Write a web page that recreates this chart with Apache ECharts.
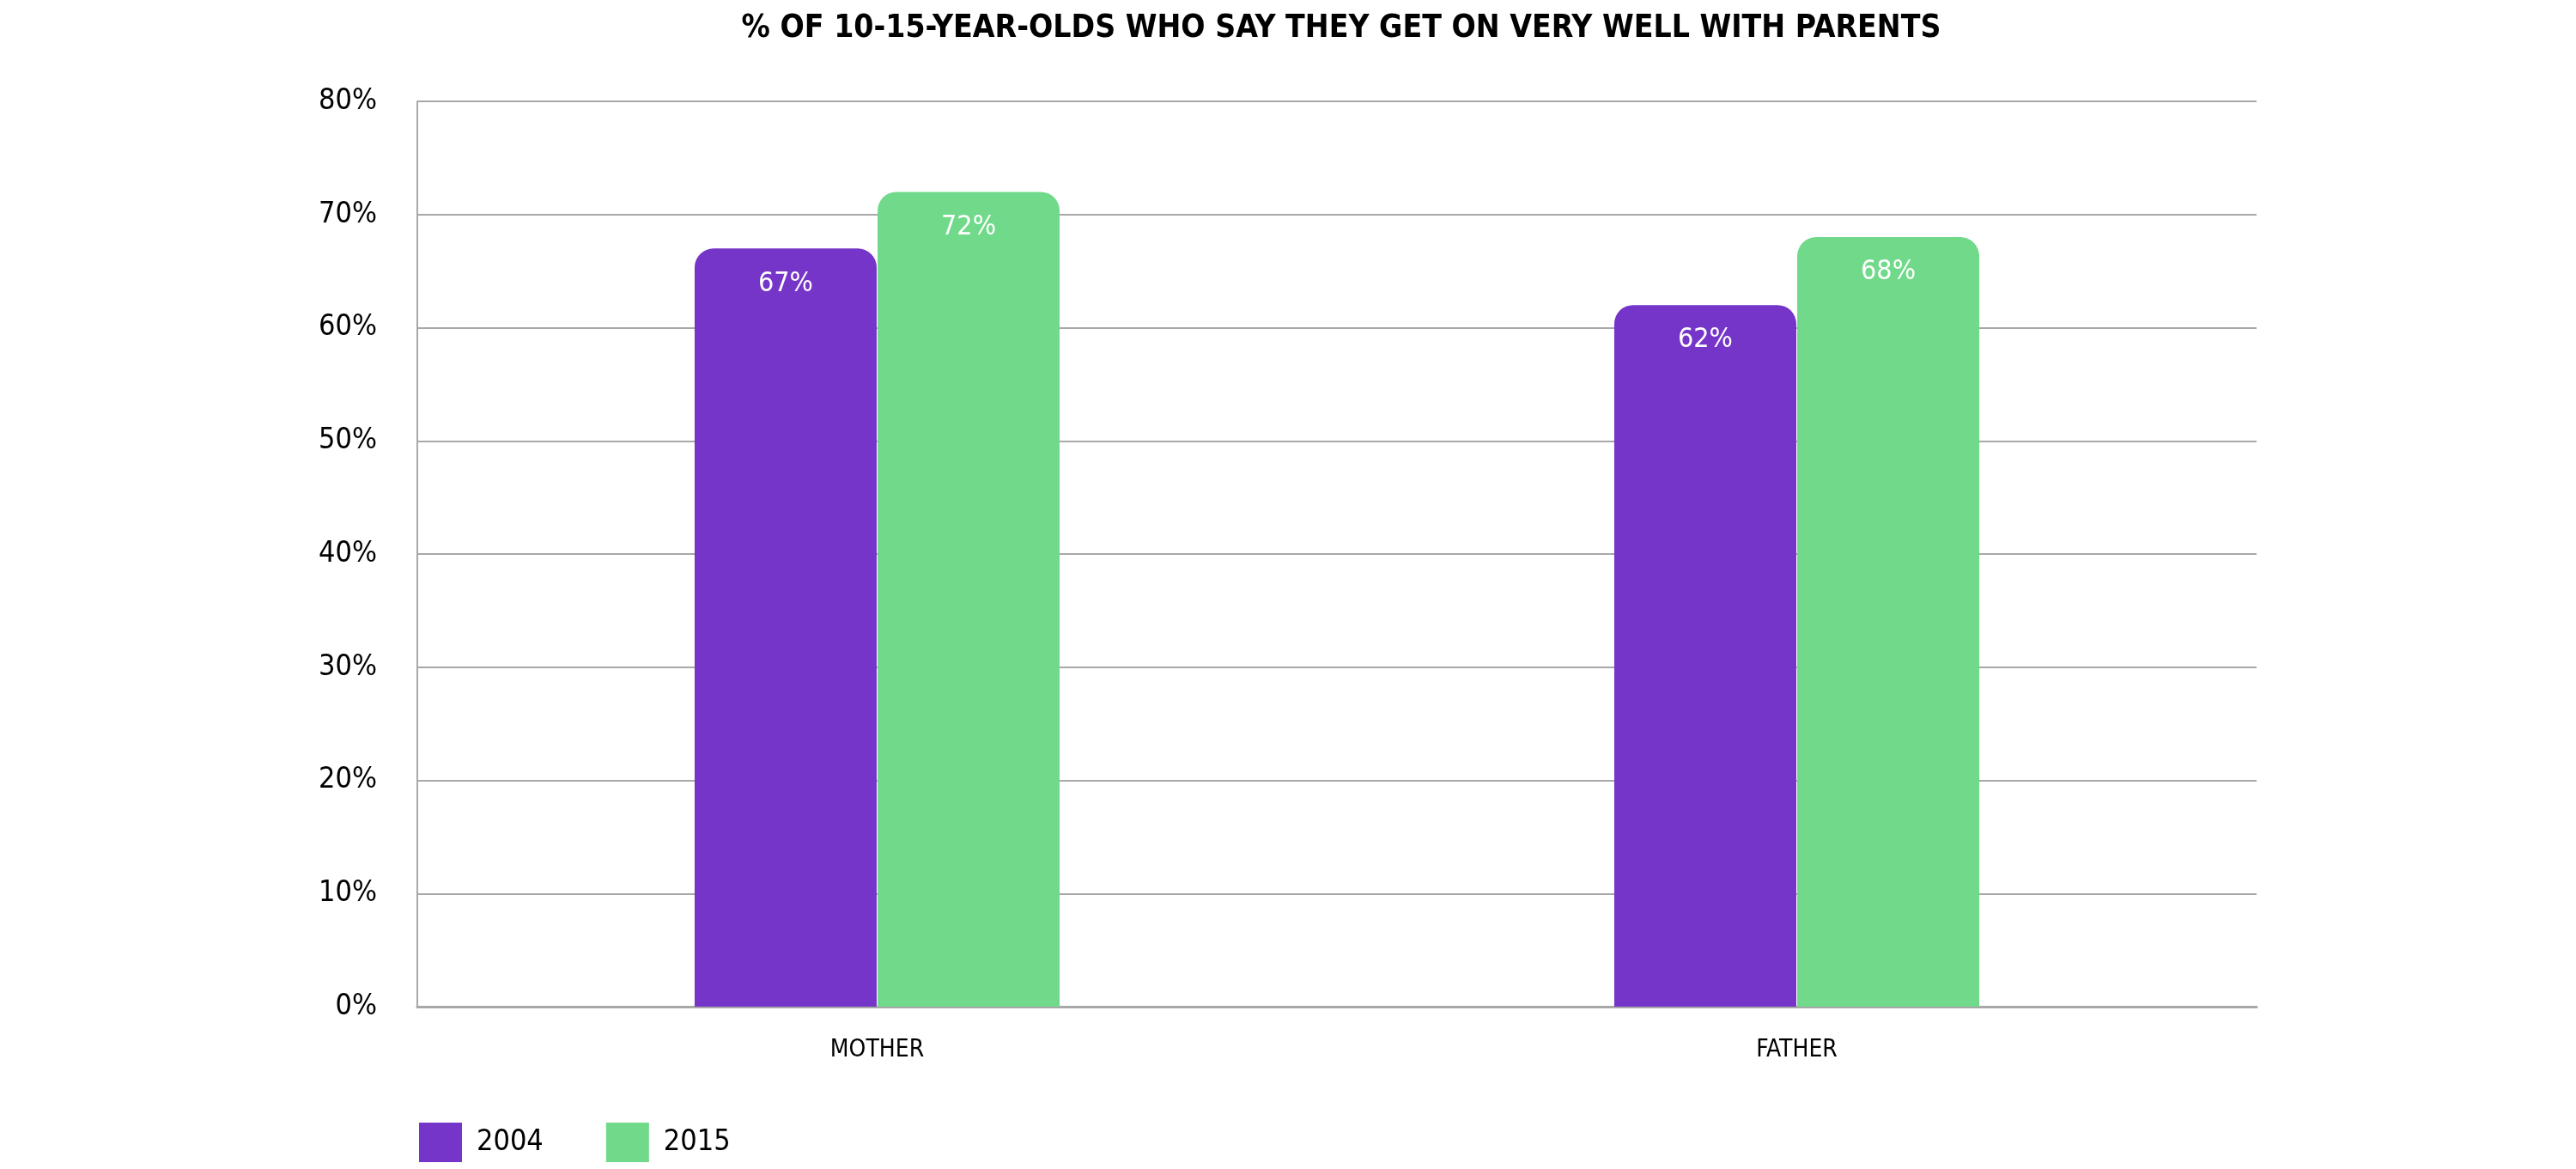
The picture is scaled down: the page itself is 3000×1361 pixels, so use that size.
<!DOCTYPE html>
<html>
<head>
<meta charset="utf-8">
<script src="https://cdn.jsdelivr.net/npm/echarts@6/dist/echarts.min.js"></script>
<style>
html,body{margin:0;padding:0;background:#fff;}
#chart{width:3000px;height:1361px;}
</style>
</head>
<body>
<div id="chart"></div>
<script>
var titleText = '% OF 10-15-YEAR-OLDS WHO SAY THEY GET ON VERY WELL WITH PARENTS';
var categories = ['MOTHER', 'FATHER'];
var seriesNames = ['2004', '2015'];
var values2004 = [67, 62];
var values2015 = [72, 68];
var yTicks = [0, 10, 20, 30, 40, 50, 60, 70, 80];

var FONT = "'Liberation Sans Narrow', 'DejaVu Sans Condensed', 'Arial Narrow', sans-serif";
var PURPLE = '#7535c8';
var GREEN = '#70d98a';
var GRID = '#a8a8a8';

var chart = echarts.init(document.getElementById('chart'));

function barSeries(name, data, color) {
  return {
    name: name,
    type: 'bar',
    data: data,
    barWidth: 212,
    barGap: '0.5%',
    itemStyle: { color: color, borderRadius: [22, 22, 0, 0] },
    label: {
      show: true,
      position: 'insideTop',
      distance: 25,
      color: '#ffffff',
      fontFamily: FONT,
      fontSize: 32,
      formatter: function (p) { return p.value + '%'; }
    }
  };
}

chart.setOption({
  backgroundColor: '#ffffff',
  animation: false,
  title: {
    text: titleText,
    left: 1557,
    textAlign: 'center',
    top: 10,
    textStyle: { fontFamily: FONT, fontSize: 37, fontWeight: 'bold', color: '#000' }
  },
  legend: {
    data: seriesNames,
    left: 488,
    top: 1307,
    padding: 0,
    icon: 'rect',
    itemWidth: 50,
    itemHeight: 46,
    itemGap: 73,
    textStyle: { fontFamily: FONT, fontSize: 34, color: '#000', padding: [0, 0, 0, 12] }
  },
  grid: { left: 486, right: 372, top: 118, bottom: 189, containLabel: false },
  xAxis: {
    type: 'category',
    data: categories,
    axisTick: { show: false },
    axisLine: { show: true, lineStyle: { color: GRID, width: 3 } },
    axisLabel: { fontFamily: FONT, fontSize: 28, color: '#000', margin: 37 }
  },
  yAxis: {
    type: 'value',
    min: yTicks[0],
    max: yTicks[yTicks.length - 1],
    interval: 10,
    axisTick: { show: false },
    axisLine: { show: true, lineStyle: { color: GRID, width: 2 } },
    splitLine: { show: true, lineStyle: { color: GRID, width: 2 } },
    axisLabel: { fontFamily: FONT, fontSize: 34, color: '#000', margin: 47, formatter: '{value}%' }
  },
  series: [
    barSeries(seriesNames[0], values2004, PURPLE),
    barSeries(seriesNames[1], values2015, GREEN)
  ]
});
</script>
</body>
</html>
